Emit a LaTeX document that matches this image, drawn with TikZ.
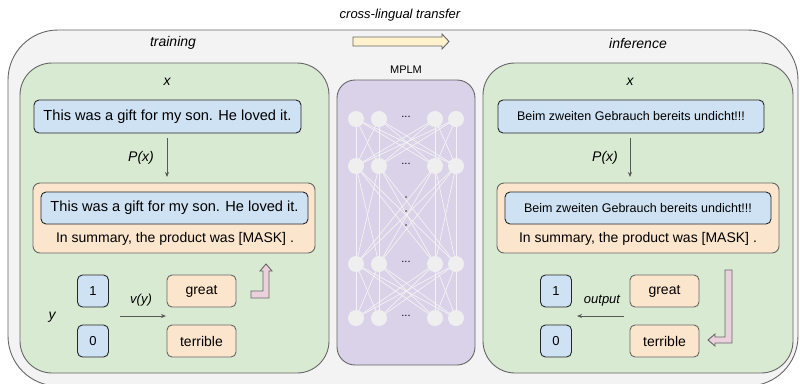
\documentclass[tikz,border=0pt]{standalone}
\usepackage{fontspec}
\setmainfont{Liberation Sans}
\usetikzlibrary{arrows.meta}
\definecolor{outerfill}{HTML}{F3F3F3}
\definecolor{bord}{HTML}{666666}
\definecolor{greenfill}{HTML}{D9EAD3}
\definecolor{bluefill}{HTML}{CFE2F3}
\definecolor{orangefill}{HTML}{FCE5CD}
\definecolor{purplefill}{HTML}{D9D2E9}
\definecolor{pinkfill}{HTML}{EAD1DC}
\definecolor{yellowfill}{HTML}{FFF2CC}
\definecolor{neuron}{HTML}{EFEFEF}
\definecolor{arrowgray}{HTML}{595959}
\begin{document}
\begin{tikzpicture}[x=1pt,y=-1pt,
  outerbox/.style={draw=bord,fill=outerfill,line width=0.9pt,rounded corners=50pt},
  greenbox/.style={draw=bord,fill=greenfill,line width=0.9pt,rounded corners=32pt},
  mplmbox/.style={draw=bord,fill=purplefill,line width=0.9pt,rounded corners=18pt},
  bluebox/.style={draw=black!85,fill=bluefill,line width=0.9pt,rounded corners=5pt,inner sep=0pt},
  orangebox/.style={draw=bord,fill=orangefill,line width=0.9pt,rounded corners=7pt,inner sep=0pt},
  smallbox/.style={draw=bord,fill=orangefill,line width=0.9pt,rounded corners=5pt,inner sep=0pt,minimum width=69pt,minimum height=32pt,font=\fontsize{14}{16}\selectfont},
  numbox/.style={draw=black!85,fill=bluefill,line width=0.9pt,rounded corners=5pt,inner sep=0pt,minimum width=31pt,minimum height=32pt,font=\fontsize{13}{15}\selectfont},
  lbl/.style={inner sep=0pt,font=\fontsize{14}{16}\selectfont\itshape},
  txt/.style={inner sep=0pt,font=\fontsize{14}{16}\selectfont},
  bigtxt/.style={inner sep=0pt,font=\fontsize{14.6}{17}\selectfont},
  fatarrow/.style={draw=bord,line width=0.9pt,line join=miter},
  thinarrow/.style={draw=arrowgray,line width=0.8pt,-{Stealth[length=5pt,width=4pt]}},
  neur/.style={circle,fill=neuron,minimum size=16pt,inner sep=0pt},
  nlink/.style={draw=outerfill,line width=0.7pt}
]
\useasboundingbox (0,0) rectangle (800,383);

% outer container
\draw[outerbox] (8,30) rectangle (798,386);
\node[lbl,font=\fontsize{13}{15}\selectfont\itshape] (clt) at (400,15) {cross-lingual transfer};
\draw[fatarrow,fill=yellowfill] (353,37) -- (442,37) -- (442,34) -- (449,41.5) -- (442,49) -- (442,46) -- (353,46) -- cycle;
\node[lbl] (train) at (173,43) {training};
\node[lbl] (infer) at (638,43) {inference};

% left green
\draw[greenbox] (20,63) rectangle (329,373);
\node[lbl] (xl) at (167,82) {x};
\node[bluebox,minimum width=267pt,minimum height=33pt,bigtxt] (sl) at (167.5,116.5) {This was a gift for my son. He loved it.};
\node[orangebox,minimum width=282pt,minimum height=70pt] (ol) at (174,218) {};
\node[bluebox,minimum width=267pt,minimum height=32pt,bigtxt] (il) at (174.5,208) {This was a gift for my son. He loved it.};
\node[txt] (ml) at (175,239) {In summary, the product was [MASK] .};
\coordinate (al1) at (167,138);
\coordinate (al2) at (167,177);
\draw[thinarrow] (al1) -- (al2);
\node[lbl] (pxl) at (141,158) {P(x)};
\node[numbox] (one) at (93,291) {1};
\node[numbox] (zero) at (93,341) {0};
\node[smallbox] (gl) at (201.5,291) {great};
\node[smallbox] (tl) at (201.5,341) {terrible};
\node[lbl] (yl) at (52,317) {y};
\node[lbl,font=\fontsize{13}{15}\selectfont\itshape] (vy) at (141,300) {v(y)};
\coordinate (vl1) at (120,316);
\coordinate (vl2) at (166,316);
\draw[thinarrow] (vl1) -- (vl2);
\draw[fatarrow,fill=pinkfill] (251,291) -- (263,291) -- (263,271) -- (260,271) -- (266,264) -- (272,271) -- (269,271) -- (269,298) -- (251,298) -- cycle;

% MPLM
\node[txt,font=\fontsize{11}{13}\selectfont] (mplmlbl) at (406,70) {MPLM};
\draw[mplmbox] (337,80) rectangle (475,365);
\foreach \r/\yy in {1/119,2/166,3/264,4/318}{
  \foreach \c/\xx in {1/356,2/379,3/435,4/456}{
    \coordinate (n\r\c) at (\xx,\yy);
  }
}
\foreach \a/\b in {1/2,2/3,3/4}{
  \foreach \i in {1,2,3,4}{
    \foreach \j in {1,2,3,4}{
      \draw[nlink] (n\a\i) -- (n\b\j);
    }
  }
}
\foreach \r in {1,2,3,4}{
  \foreach \c in {1,2,3,4}{
    \node[neur] (m\r\c) at (n\r\c) {};
  }
}
\foreach \yy [count=\k] in {119,166,264,318}{
  \node[txt,font=\fontsize{11}{13}\selectfont] (dots\k) at (406,\yy-2) {...};
}
\foreach \yy [count=\k] in {197,211,225}{
  \node[circle,fill=black!80,minimum size=1.8pt,inner sep=0pt] (vd\k) at (406,\yy) {};
}

% right green
\draw[greenbox] (483,63) rectangle (793,373);
\node[lbl] (xr) at (630,82) {x};
\node[bluebox,minimum width=266pt,minimum height=33pt,txt,font=\fontsize{12.5}{15}\selectfont] (sr) at (631,116.5) {Beim zweiten Gebrauch bereits undicht!!!};
\node[orangebox,minimum width=282pt,minimum height=70pt] (or) at (638,218) {};
\node[bluebox,minimum width=266pt,minimum height=32pt,txt,font=\fontsize{12.5}{15}\selectfont] (ir) at (638,208) {Beim zweiten Gebrauch bereits undicht!!!};
\node[txt] (mr) at (638,239) {In summary, the product was [MASK] .};
\coordinate (ar1) at (630,138);
\coordinate (ar2) at (630,177);
\draw[thinarrow] (ar1) -- (ar2);
\node[lbl] (pxr) at (605,158) {P(x)};
\node[numbox] (oner) at (556,291) {1};
\node[numbox] (zeror) at (556,341) {0};
\node[smallbox] (gr) at (664.5,291) {great};
\node[smallbox] (tr) at (664.5,341) {terrible};
\node[lbl,font=\fontsize{13}{15}\selectfont\itshape] (outp) at (602,301) {output};
\coordinate (or1) at (624,316);
\coordinate (or2) at (577,316);
\draw[thinarrow] (or1) -- (or2);
\draw[fatarrow,fill=pinkfill] (725,270) -- (732,270) -- (732,343) -- (715,343) -- (715,346) -- (708,340) -- (715,334) -- (715,337) -- (725,337) -- cycle;
\end{tikzpicture}
\end{document}
